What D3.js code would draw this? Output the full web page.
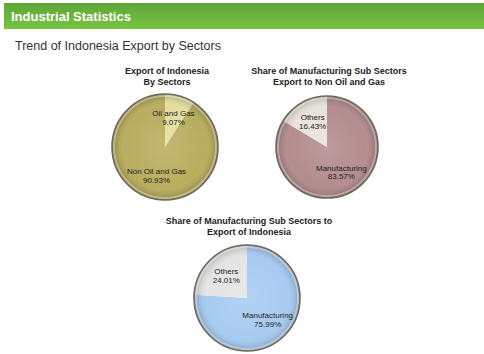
<!DOCTYPE html>
<html>
<head>
<meta charset="utf-8">
<script src="https://cdn.jsdelivr.net/npm/d3@7"></script>
<style>
  body { margin: 0; background: #fff; }
  svg { display: block; }
</style>
</head>
<body>
<svg id="chart" width="484" height="354"></svg>
<script>
var width = 484, height = 354;

// chart data
var pieTitles = [
    ["Export of Indonesia", "By Sectors"],
    ["Share of Manufacturing Sub Sectors", "Export to Non Oil and Gas"],
    ["Share of Manufacturing Sub Sectors to", "Export of Indonesia"]
];
var pie1Labels = ["Oil and Gas", "Non Oil and Gas"];
var pie1Values = [9.07, 90.93];
var pie2Labels = ["Manufacturing", "Others"];
var pie2Values = [83.57, 16.43];
var pie3Labels = ["Manufacturing", "Others"];
var pie3Values = [75.99, 24.01];

var pieColors = [
    ["#e6dfa0", "#b9ae5f"],
    ["#b48d90", "#e9e3dc"],
    ["#a8ccf2", "#e5e5e5"]
];
var layout = [
    { cx: 165, cy: 147, r: 53, titleY: 74 },
    { cx: 327, cy: 147, r: 51, titleY: 74 },
    { cx: 247, cy: 298, r: 53, titleY: 224 }
];

const svg = d3.select("#chart");
const defs = svg.append("defs");

var hg = defs.append("linearGradient").attr("id", "hdr")
    .attr("x1", 0).attr("y1", 0).attr("x2", 0).attr("y2", 1);
hg.append("stop").attr("offset", "0%").attr("stop-color", "#5ea536");
hg.append("stop").attr("offset", "100%").attr("stop-color", "#79c444");

var shade = defs.append("radialGradient").attr("id", "shade")
    .attr("cx", "50%").attr("cy", "50%").attr("r", "50%");
shade.append("stop").attr("offset", "0%").attr("stop-color", "#fff").attr("stop-opacity", 0.12);
shade.append("stop").attr("offset", "75%").attr("stop-color", "#fff").attr("stop-opacity", 0.0);
shade.append("stop").attr("offset", "90%").attr("stop-color", "#000").attr("stop-opacity", 0.08);
shade.append("stop").attr("offset", "100%").attr("stop-color", "#000").attr("stop-opacity", 0.22);

// header
svg.append("rect")
    .attr("x", 4).attr("y", 3).attr("width", width - 4).attr("height", 26)
    .attr("fill", "url(#hdr)");
svg.append("text")
    .attr("x", 11).attr("y", 20.5)
    .attr("font-family", "Liberation Sans, Arial, sans-serif")
    .attr("font-size", "13px").attr("font-weight", "bold")
    .attr("fill", "#fff")
    .text("Industrial Statistics");
svg.append("text")
    .attr("x", 15).attr("y", 50)
    .attr("font-family", "Liberation Sans, Arial, sans-serif")
    .attr("font-size", "12.5px")
    .attr("fill", "#333")
    .text("Trend of Indonesia Export by Sectors");

var datasets = [
    { labels: pie1Labels, values: pie1Values },
    { labels: pie2Labels, values: pie2Values },
    { labels: pie3Labels, values: pie3Values }
];

var pie = d3.pie().sort(null).value(d => d.value);

datasets.forEach(function (ds, i) {
    var L = layout[i];
    var data = ds.labels.map((l, j) => ({ label: l, value: ds.values[j] }));
    var arc = d3.arc().innerRadius(0).outerRadius(L.r);
    var labelArc = d3.arc().innerRadius(L.r * 0.57).outerRadius(L.r * 0.57);

    var g = svg.append("g").attr("transform", "translate(" + L.cx + "," + L.cy + ")");

    // title
    svg.append("g").selectAll("text")
        .data(pieTitles[i])
        .join("text")
        .attr("x", L.cx + 2)
        .attr("y", (d, k) => L.titleY + k * 11)
        .attr("text-anchor", "middle")
        .attr("font-family", "Liberation Sans, Arial, sans-serif")
        .attr("font-size", "9px").attr("font-weight", "bold")
        .attr("fill", "#222")
        .text(d => d);

    g.selectAll("path.slice")
        .data(pie(data))
        .join("path")
        .attr("class", "slice")
        .attr("d", arc)
        .attr("fill", (d, j) => pieColors[i][j]);

    // dome shading and rim
    g.append("circle").attr("r", L.r).attr("fill", "url(#shade)");
    g.append("circle").attr("r", L.r - 2).attr("fill", "none")
        .attr("stroke", "#fff").attr("stroke-opacity", 0.35).attr("stroke-width", 2);
    g.append("circle").attr("r", L.r).attr("fill", "none")
        .attr("stroke", "#6f6a5c").attr("stroke-width", 1.6);

    // labels
    var lab = g.selectAll("text.lbl")
        .data(pie(data))
        .join("text")
        .attr("class", "lbl")
        .attr("transform", d => "translate(" + labelArc.centroid(d) + ")")
        .attr("text-anchor", "middle")
        .attr("font-family", "Liberation Sans, Arial, sans-serif")
        .attr("font-size", "8px")
        .attr("fill", "#222");
    lab.append("tspan").attr("x", 0).attr("dy", "-0.2em").text(d => d.data.label);
    lab.append("tspan").attr("x", 0).attr("dy", "1.1em").text(d => d.data.value.toFixed(2) + "%");
});
</script>
</body>
</html>
